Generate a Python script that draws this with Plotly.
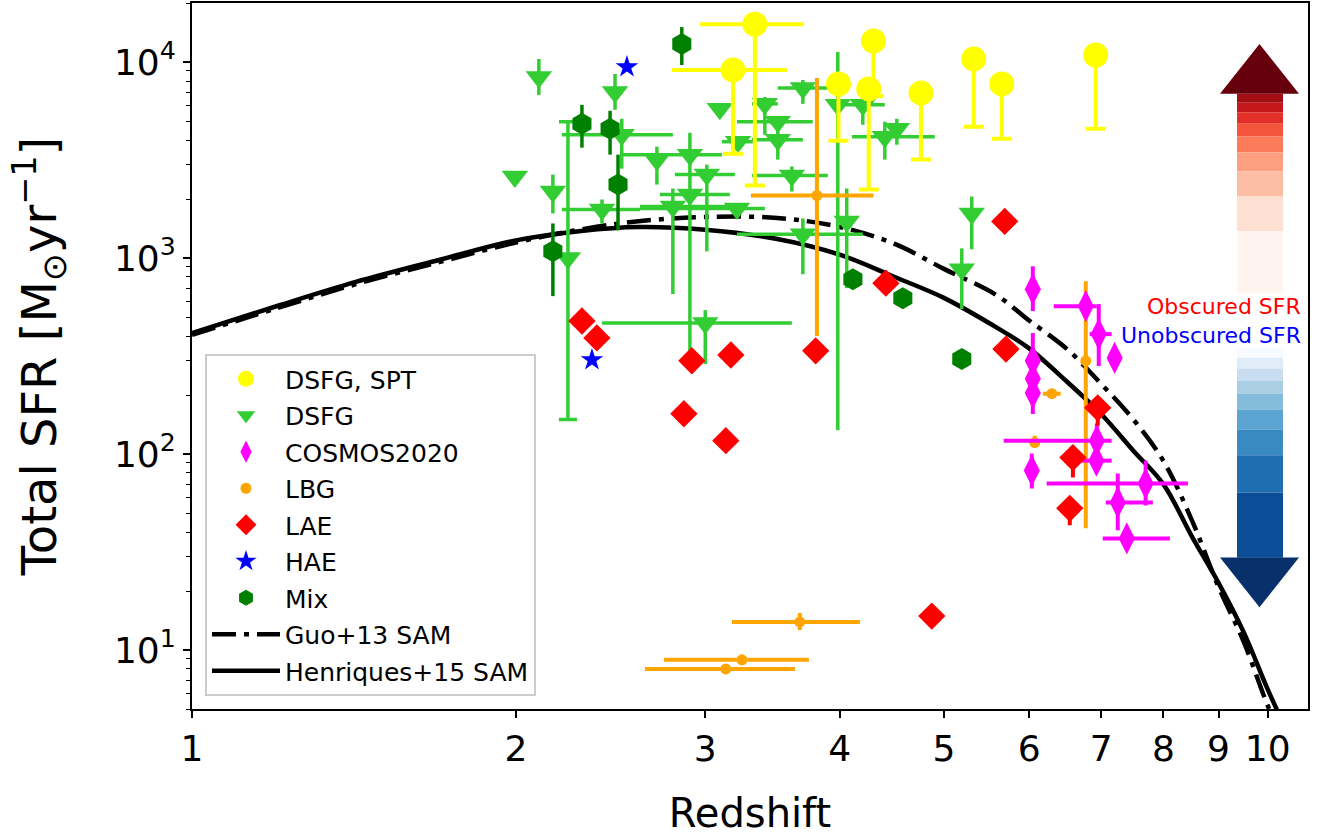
import numpy as np
import plotly.graph_objects as go

# ---------------- data ----------------
# SAM curves
z_sam = [1.0, 1.2, 1.42, 1.7, 2.0, 2.3, 2.6, 3.0, 3.5, 4.0, 4.5, 5.0, 5.6, 6.0, 6.5, 7.0, 7.5, 8.0, 8.5, 9.0, 9.5, 10.0, 10.5]
sfr_henriques = [414, 569, 755, 980, 1230, 1375, 1440, 1395, 1250, 1040, 800, 626, 441, 346, 235, 160, 104, 70, 38, 22, 12.3, 6.3, 3.5]
sfr_guo = [405, 555, 735, 955, 1200, 1400, 1540, 1620, 1600, 1440, 1180, 880, 645, 480, 345, 228, 150, 92, 46, 21, 11, 5.2, 2.8]

# DSFG, SPT (yellow)
spt_z = [3.336, 3.183, 3.99, 4.30, 4.257, 4.76, 5.33, 5.66, 6.92]
spt_sfr = [15600, 9100, 7730, 12790, 7290, 6950, 10360, 7730, 10850]
spt_sfr_lo = [2345, 3400, 3960, 6710, 2235, 3180, 4680, 4060, 4560]
spt_z_lo = [2.966, 2.793, 3.99, 4.30, 4.257, 4.76, 5.33, 5.66, 6.92]
spt_z_hi = [3.706, 3.573, 3.99, 4.30, 4.257, 4.76, 5.33, 5.66, 6.92]

# DSFG (green triangles)
dsfg_z = [2.101, 1.996, 2.165, 2.473, 2.509, 2.405, 2.705, 2.903, 3.010, 2.799, 2.903, 3.211, 3.095, 3.218,
          3.408, 3.504, 3.504, 3.697, 3.611, 3.697, 4.061, 3.984, 4.406, 4.521, 4.203, 5.307, 5.195, 3.0]
dsfg_sfr = [8390, 2602, 2183, 7039, 4255, 1768, 3176, 3367, 2664, 1831, 2108, 1789, 5768, 3921,
            6116, 4960, 4013, 7376, 2633, 1320, 1537, 6046, 4157, 4564, 6046, 1688, 876, 466]
dsfg_z_lo = [2.101, 1.996, 2.165, 2.473, 2.207, 2.207, 2.705, 2.499, 2.811, 2.609, 2.722, 2.609, 3.095, 3.109,
             3.315, 3.211, 3.315, 3.504, 3.315, 3.211, 4.061, 3.984, 4.106, 4.521, 4.027, 5.307, 5.195, 2.405]
dsfg_z_hi = [2.101, 1.996, 2.165, 2.473, 2.799, 2.609, 2.705, 3.109, 3.196, 3.211, 3.162, 3.408, 3.095, 3.322,
             3.504, 3.776, 3.697, 3.900, 3.900, 4.203, 4.061, 3.984, 4.903, 4.521, 4.406, 5.307, 5.195, 3.611]
dsfg_sfr_lo = [6796, 2602, 1688, 5702, 2858, 1501, 2369, 336, 1081, 654, 2108, 1789, 5768, 3921,
               4255, 4960, 3176, 6116, 2183, 826, 702, 132, 3176, 3784, 4783, 1107, 549, 288]
dsfg_sfr_hi = [10360, 2602, 2664, 8689, 5131, 1989, 3698, 4355, 2995, 2262, 2108, 1789, 5768, 3921,
               6637, 4960, 4675, 8100, 2930, 1592, 2262, 11240, 4960, 5131, 6637, 2059, 1120, 542]
# DSFG point with capped error bar
dsfg_cap_z = [2.236]
dsfg_cap_sfr = [1000]
dsfg_cap_lo = [150]
dsfg_cap_hi = [4960]

# COSMOS2020 (magenta)
cos_z = [6.048, 6.774, 6.965, 7.206, 6.048, 6.048, 6.048, 6.936, 6.93, 6.035, 7.70, 7.254, 7.396]
cos_sfr = [693, 568, 409, 309, 299, 242, 205, 117, 92.5, 82.3, 70.7, 56.6, 37.1]
cos_z_lo = [6.048, 6.325, 6.83, 7.206, 6.048, 6.048, 6.048, 5.683, 6.716, 6.035, 6.23, 7.07, 7.025]
cos_z_hi = [6.048, 6.936, 7.16, 7.206, 6.048, 6.048, 6.048, 7.16, 7.16, 6.035, 8.43, 7.82, 8.11]
cos_sfr_lo = [536, 568, 281, 309, 160, 242, 205, 96, 92.5, 66.7, 54.6, 40.8, 37.1]
cos_sfr_hi = [907, 568, 582, 309, 414, 242, 205, 143, 92.5, 100.5, 92.5, 79.5, 37.1]

# LBG (orange)
lbg_z = [3.81, 6.774, 6.30, 6.073, 3.673, 3.245, 3.135]
lbg_sfr = [2084, 299, 203, 114.3, 13.9, 8.91, 8.01]
lbg_z_lo = [3.308, 6.774, 6.18, 6.073, 3.176, 2.746, 2.637]
lbg_z_hi = [4.30, 6.774, 6.42, 6.073, 4.177, 3.745, 3.635]
lbg_sfr_lo = [400, 41.8, 203, 107.8, 12.65, 8.91, 8.01]
lbg_sfr_hi = [8292, 762, 203, 124, 15.45, 8.91, 8.01]

# LAE (red)
lae_z = [2.304, 2.379, 2.915, 3.169, 3.80, 2.866, 3.135, 4.416, 5.695, 5.71, 6.95, 6.59, 6.546, 4.872]
lae_sfr = [477, 391, 299, 320, 336, 160.5, 117, 744, 1537, 343, 172, 95.9, 52.8, 14.9]
lae_sfr_lo = [477, 391, 299, 320, 336, 160.5, 117, 744, 1537, 343, 139.5, 75.9, 43.3, 14.9]

# HAE (blue)
hae_z = [2.537, 2.354]
hae_sfr = [9431, 302]

# Mix (dark green)
mix_z = [2.853, 2.304, 2.447, 2.489, 2.165, 4.115, 4.579, 5.195]
mix_sfr = [12340, 4840, 4564, 2369, 1081, 779, 624, 305.5]
mix_sfr_lo = [9654, 3655, 3367, 1383, 639, 779, 624, 305.5]
mix_sfr_hi = [15070, 6046, 5636, 3367, 1501, 779, 624, 305.5]

# tick labels
x_ticks = [1, 2, 3, 4, 5, 6, 7, 8, 9, 10]
x_ticktext = ["1", "2", "3", "4", "5", "6", "7", "8", "9", "10"]
y_ticks = [10, 100, 1000, 10000]
y_ticktext = ["10<sup>1</sup>", "10<sup>2</sup>", "10<sup>3</sup>", "10<sup>4</sup>"]

# arrow colour steps (Reds top->bottom, Blues top->bottom)
reds_steps = ["#a10f15", "#c4171c", "#e23028", "#f4553c", "#fb7b5b", "#fc9f81", "#fcbfa6", "#fee0d3", "#fff4ef"]
blues_steps = ["#f7fbff", "#e0ecf8", "#c9ddf0", "#aacfe5", "#84bcdb", "#5ba3d0", "#3a8ac2", "#1f6eb2", "#0b4d96"]

FONT = "DejaVu Sans"


def arr(a):
    return np.array(a, dtype=float)


def err(val, lo, hi):
    v = arr(val)
    return dict(type="data", symmetric=False, array=arr(hi) - v, arrayminus=v - arr(lo))


fig = go.Figure()

# SAM lines (drawn first, legend last)
fig.add_trace(go.Scatter(x=z_sam, y=sfr_guo, mode="lines", name="Guo+13 SAM", legendrank=8, legendgroup="g8",
                         line=dict(color="black", width=4.5, dash="24px,8px,5px,8px", shape="spline")))
fig.add_trace(go.Scatter(x=z_sam, y=sfr_henriques, mode="lines", name="Henriques+15 SAM", legendrank=9,
                         legendgroup="g9", line=dict(color="black", width=4.5, shape="spline")))

# DSFG
ex = err(dsfg_z, dsfg_z_lo, dsfg_z_hi); ex.update(thickness=3.5, width=0, color="#32CD32")
ey = err(dsfg_sfr, dsfg_sfr_lo, dsfg_sfr_hi); ey.update(thickness=3.5, width=0, color="#32CD32")
fig.add_trace(go.Scatter(x=dsfg_z, y=dsfg_sfr, mode="markers", name="DSFG", legendrank=2, legendgroup="g2",
                         marker=dict(symbol="triangle-down", size=23, color="#32CD32"),
                         error_x=ex, error_y=ey))
ey = err(dsfg_cap_sfr, dsfg_cap_lo, dsfg_cap_hi); ey.update(thickness=3.5, width=9, color="#32CD32")
fig.add_trace(go.Scatter(x=dsfg_cap_z, y=dsfg_cap_sfr, mode="markers", showlegend=False, legendgroup="g2",
                         marker=dict(symbol="triangle-down", size=23, color="#32CD32"), error_y=ey))

# Mix
ey = err(mix_sfr, mix_sfr_lo, mix_sfr_hi); ey.update(thickness=3.5, width=0, color="#008000")
fig.add_trace(go.Scatter(x=mix_z, y=mix_sfr, mode="markers", name="Mix", legendrank=7, legendgroup="g7",
                         marker=dict(symbol="hexagon", size=22, color="#008000"), error_y=ey))

# DSFG, SPT
ex = err(spt_z, spt_z_lo, spt_z_hi); ex.update(thickness=4, width=0, color="#FFFF00")
ey = err(spt_sfr, spt_sfr_lo, spt_sfr); ey.update(thickness=4, width=10, color="#FFFF00")
fig.add_trace(go.Scatter(x=spt_z, y=spt_sfr, mode="markers", name="DSFG, SPT", legendrank=1, legendgroup="g1",
                         marker=dict(symbol="circle", size=25, color="#FFFF00"),
                         error_x=ex, error_y=ey))

# LBG
ex = err(lbg_z, lbg_z_lo, lbg_z_hi); ex.update(thickness=4, width=0, color="#FFA500")
ey = err(lbg_sfr, lbg_sfr_lo, lbg_sfr_hi); ey.update(thickness=4, width=0, color="#FFA500")
fig.add_trace(go.Scatter(x=lbg_z, y=lbg_sfr, mode="markers", name="LBG", legendrank=4, legendgroup="g4",
                         marker=dict(symbol="circle", size=11, color="#FFA500"),
                         error_x=ex, error_y=ey))

# COSMOS2020
ex = err(cos_z, cos_z_lo, cos_z_hi); ex.update(thickness=4, width=0, color="#FF00FF")
ey = err(cos_sfr, cos_sfr_lo, cos_sfr_hi); ey.update(thickness=4, width=0, color="#FF00FF")
fig.add_trace(go.Scatter(x=cos_z, y=cos_sfr, mode="markers", name="COSMOS2020", legendrank=3, legendgroup="g3",
                         marker=dict(symbol="diamond-tall", size=23, color="#FF00FF"),
                         error_x=ex, error_y=ey))

# LAE
ey = err(lae_sfr, lae_sfr_lo, lae_sfr); ey.update(thickness=4, width=0, color="#FF0000")
fig.add_trace(go.Scatter(x=lae_z, y=lae_sfr, mode="markers", name="LAE", legendrank=5, legendgroup="g5",
                         marker=dict(symbol="diamond", size=21, color="#FF0000"), error_y=ey))

# HAE
fig.add_trace(go.Scatter(x=hae_z, y=hae_sfr, mode="markers", name="HAE", legendrank=6, legendgroup="g6",
                         marker=dict(symbol="star", size=17, color="#0000FF")))

# ---------------- arrows (paper coords) ----------------
L, W, T, H = 192, 1116, 1, 708


def pxx(x):
    return (x - L) / W


def pxy(y):
    return (T + H - y) / H


shapes = []
red_bounds = [92, 101, 110.6, 122, 134.7, 150.8, 170, 195, 230, 292]
for i, c in enumerate(reds_steps):
    shapes.append(dict(type="rect", xref="paper", yref="paper", x0=pxx(1237), x1=pxx(1283),
                       y0=pxy(red_bounds[i + 1]), y1=pxy(red_bounds[i]), fillcolor=c, line=dict(width=0),
                       layer="above"))
shapes.append(dict(type="path", xref="paper", yref="paper",
                   path=f"M {pxx(1220)},{pxy(92)} L {pxx(1299)},{pxy(92)} L {pxx(1259.5)},{pxy(42)} Z",
                   fillcolor="#67000d", line=dict(width=0), layer="above"))
blue_bounds = [347, 357, 367.5, 380, 392.5, 408.6, 429, 454.6, 492, 557.4]
for i, c in enumerate(blues_steps):
    shapes.append(dict(type="rect", xref="paper", yref="paper", x0=pxx(1237), x1=pxx(1283),
                       y0=pxy(blue_bounds[i + 1]), y1=pxy(blue_bounds[i]), fillcolor=c, line=dict(width=0),
                       layer="above"))
shapes.append(dict(type="path", xref="paper", yref="paper",
                   path=f"M {pxx(1220)},{pxy(557)} L {pxx(1299)},{pxy(557)} L {pxx(1259.5)},{pxy(607)} Z",
                   fillcolor="#08306b", line=dict(width=0), layer="above"))

annotations = [
    dict(text="Obscured SFR", xref="paper", yref="paper", x=pxx(1303), y=pxy(305), xanchor="right",
         yanchor="middle", showarrow=False, font=dict(family=FONT, size=22, color="red")),
    dict(text="Unobscured SFR", xref="paper", yref="paper", x=pxx(1303), y=pxy(334), xanchor="right",
         yanchor="middle", showarrow=False, font=dict(family=FONT, size=22, color="blue")),
]

fig.update_layout(
    width=1320, height=839,
    margin=dict(l=L, r=1320 - L - W, t=T, b=839 - T - H),
    paper_bgcolor="white", plot_bgcolor="white",
    font=dict(family=FONT, color="black"),
    showlegend=True,
    legend=dict(x=pxx(205), y=pxy(353), xanchor="left", yanchor="top",
                bgcolor="rgba(255,255,255,0.8)", bordercolor="#cccccc", borderwidth=2,
                font=dict(family=FONT, size=25), tracegroupgap=1, itemwidth=68),
    shapes=shapes, annotations=annotations,
)

fig.update_xaxes(type="log", range=[0, np.log10(10.9)], tickmode="array", tickvals=x_ticks, ticktext=x_ticktext,
                 ticks="outside", ticklen=7, tickwidth=1.6, tickcolor="black",
                 tickfont=dict(family=FONT, size=36), showgrid=False, zeroline=False,
                 showline=True, linewidth=2, linecolor="black", mirror=True,
                 title=dict(text="Redshift", font=dict(family=FONT, size=40), standoff=31))
fig.update_yaxes(type="log", range=[np.log10(5), np.log10(2e4)], tickmode="array", tickvals=y_ticks,
                 ticktext=y_ticktext, ticks="outside", ticklen=7, tickwidth=1.6, tickcolor="black",
                 tickfont=dict(family=FONT, size=36), showgrid=False, zeroline=False,
                 showline=True, linewidth=2, linecolor="black", mirror=True,
                 minor=dict(ticks="outside", ticklen=4, tickwidth=1.2, tickcolor="black",
                            tickvals=[m * 10 ** e for e in range(0, 5) for m in range(2, 10)]),
                 title=dict(text="Total SFR [M<sub>⊙</sub>yr<sup>−1</sup>]", font=dict(family=FONT, size=48),
                            standoff=42))

fig.write_html("out.html", post_script="document.body.style.margin='0px';",
               config={"displayModeBar": False})
